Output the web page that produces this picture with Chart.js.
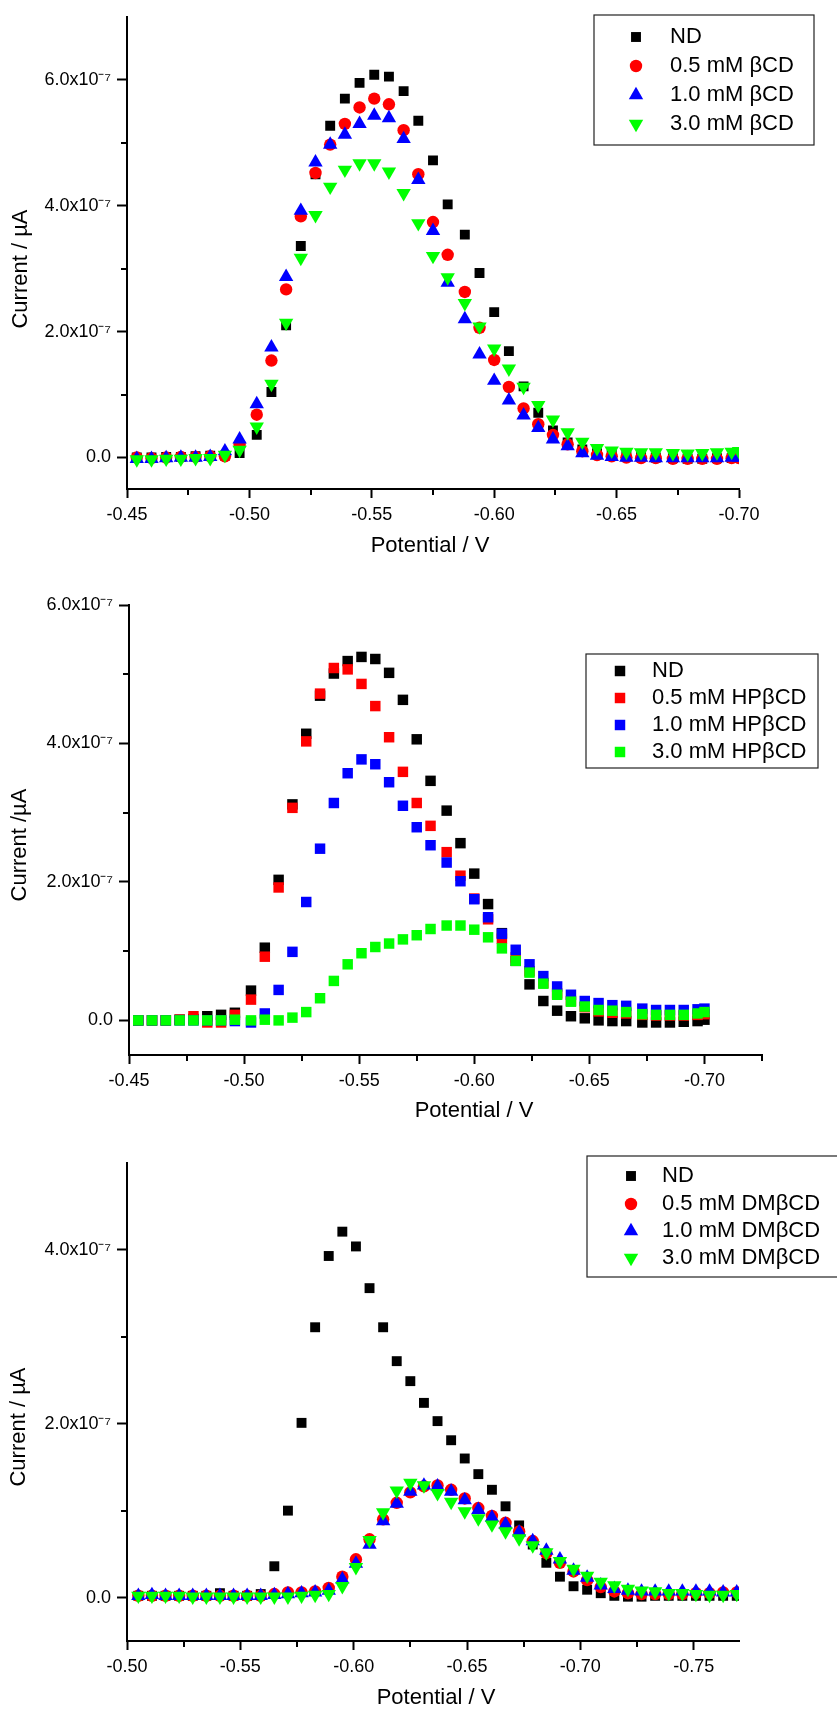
<!DOCTYPE html>
<html lang="en">
<head>
    <meta charset="UTF-8">
    <title>Current vs potential with cyclodextrins</title>
    <script src="https://cdn.jsdelivr.net/npm/chart.js"></script>
    <style type="text/css">
    body {
    margin: 0;
    padding: 0;
    background-color: #fff;
    overflow: hidden;
    }
    .panel {
    position: absolute;
    left: 0;
    width: 837px;
    }
    #panel1 { top: 0; }
    #panel2 { top: 580px; }
    #panel3 { top: 1140px; }
    </style>
</head>
<body>
    <div class="panel" id="panel1"><canvas id="chart1" width="837" height="575"></canvas></div>
    <div class="panel" id="panel2"><canvas id="chart2" width="837" height="560"></canvas></div>
    <div class="panel" id="panel3"><canvas id="chart3" width="837" height="575"></canvas></div>

    <script>
    // ---- data (currents in units of 1e-7 A) ----

    // panel 1: beta-CD
    const potential1 = [-0.454, -0.460, -0.466, -0.472, -0.478, -0.484, -0.490, -0.496, -0.503, -0.509,
        -0.515, -0.521, -0.527, -0.533, -0.539, -0.545, -0.551, -0.557, -0.563, -0.569,
        -0.575, -0.581, -0.588, -0.594, -0.600, -0.606, -0.612, -0.618, -0.624, -0.630,
        -0.636, -0.642, -0.648, -0.654, -0.660, -0.666, -0.673, -0.679, -0.685, -0.691,
        -0.697, -0.700];
    const nd1 = [0.00, 0.00, 0.01, 0.01, 0.02, 0.03, 0.03, 0.07, 0.36, 1.04,
        2.10, 3.36, 4.50, 5.27, 5.70, 5.95, 6.08, 6.05, 5.82, 5.35,
        4.72, 4.02, 3.54, 2.93, 2.31, 1.69, 1.13, 0.71, 0.43, 0.24,
        0.13, 0.07, 0.04, 0.02, 0.01, 0.00, -0.01, -0.02, -0.02, -0.01,
        -0.01, 0.00];
    const bcd05 = [0.00, -0.01, 0.00, 0.01, 0.01, 0.02, 0.02, 0.20, 0.68, 1.54,
        2.67, 3.83, 4.52, 4.97, 5.30, 5.56, 5.70, 5.61, 5.20, 4.50,
        3.74, 3.22, 2.63, 2.06, 1.55, 1.12, 0.78, 0.53, 0.36, 0.21,
        0.10, 0.04, 0.02, 0.00, -0.01, -0.01, -0.02, -0.02, -0.02, -0.02,
        -0.01, -0.01];
    const bcd10 = [-0.02, -0.02, -0.01, 0.00, 0.00, 0.01, 0.10, 0.29, 0.85, 1.75,
        2.87, 3.92, 4.69, 4.97, 5.13, 5.30, 5.43, 5.39, 5.06, 4.41,
        3.60, 2.78, 2.20, 1.64, 1.22, 0.91, 0.67, 0.47, 0.29, 0.18,
        0.07, 0.03, 0.01, 0.00, 0.00, -0.01, -0.01, -0.01, -0.01, -0.01,
        0.00, 0.00];
    const bcd30 = [-0.03, -0.03, -0.02, -0.02, -0.01, -0.01, 0.04, 0.12, 0.49, 1.17,
        2.14, 3.17, 3.85, 4.30, 4.57, 4.67, 4.67, 4.54, 4.20, 3.72,
        3.20, 2.86, 2.45, 2.08, 1.73, 1.41, 1.12, 0.83, 0.60, 0.40,
        0.25, 0.15, 0.11, 0.09, 0.08, 0.08, 0.07, 0.06, 0.07, 0.08,
        0.09, 0.10];
    const labels1 = ['ND', '0.5 mM \u03b2CD', '1.0 mM \u03b2CD', '3.0 mM \u03b2CD'];

    // panel 2: HP-beta-CD
    const potential2 = potential1;
    const nd2 = [0.00, 0.00, 0.00, 0.01, 0.02, 0.06, 0.08, 0.11, 0.43, 1.05,
        2.03, 3.12, 4.14, 4.69, 5.01, 5.19, 5.25, 5.22, 5.02, 4.63,
        4.06, 3.46, 3.03, 2.56, 2.12, 1.68, 1.26, 0.86, 0.52, 0.28,
        0.14, 0.06, 0.03, 0.00, -0.01, -0.01, -0.03, -0.03, -0.03, -0.02,
        -0.01, 0.01];
    const hp05 = [0.00, 0.00, 0.00, 0.01, 0.06, -0.03, -0.03, 0.08, 0.30, 0.92,
        1.92, 3.07, 4.03, 4.72, 5.09, 5.07, 4.86, 4.54, 4.09, 3.59,
        3.14, 2.81, 2.43, 2.09, 1.76, 1.46, 1.18, 0.91, 0.71, 0.54,
        0.39, 0.28, 0.19, 0.13, 0.11, 0.10, 0.08, 0.07, 0.07, 0.07,
        0.08, 0.09];
    const hp10 = [0.00, 0.00, 0.00, 0.00, 0.00, 0.00, 0.00, -0.01, -0.03, 0.10,
        0.44, 0.99, 1.71, 2.48, 3.14, 3.57, 3.77, 3.70, 3.44, 3.10,
        2.79, 2.53, 2.28, 2.01, 1.75, 1.49, 1.25, 1.02, 0.81, 0.64,
        0.49, 0.37, 0.28, 0.25, 0.22, 0.21, 0.17, 0.15, 0.15, 0.15,
        0.16, 0.17];
    const hp30 = [0.00, 0.00, 0.00, 0.00, 0.00, 0.00, 0.00, 0.01, 0.00, 0.01,
        0.00, 0.04, 0.12, 0.32, 0.57, 0.81, 0.97, 1.06, 1.11, 1.17,
        1.23, 1.32, 1.37, 1.37, 1.31, 1.20, 1.04, 0.86, 0.69, 0.53,
        0.37, 0.27, 0.20, 0.15, 0.14, 0.12, 0.09, 0.08, 0.08, 0.08,
        0.10, 0.12];
    const labels2 = ['ND', '0.5 mM HP\u03b2CD', '1.0 mM HP\u03b2CD', '3.0 mM HP\u03b2CD'];

    // panel 3: DM-beta-CD
    const potential3 = [-0.505, -0.511, -0.517, -0.523, -0.529, -0.535, -0.541, -0.547, -0.553, -0.559,
        -0.565, -0.571, -0.577, -0.583, -0.589, -0.595, -0.601, -0.607, -0.613, -0.619,
        -0.625, -0.631, -0.637, -0.643, -0.649, -0.655, -0.661, -0.667, -0.673, -0.679,
        -0.685, -0.691, -0.697, -0.703, -0.709, -0.715, -0.721, -0.727, -0.733, -0.739,
        -0.745, -0.751, -0.757, -0.763, -0.769];
    const nd3 = [0.02, 0.02, 0.02, 0.02, 0.02, 0.02, 0.05, 0.02, 0.02, 0.04,
        0.36, 1.00, 2.01, 3.11, 3.93, 4.21, 4.04, 3.56, 3.11, 2.72,
        2.49, 2.24, 2.03, 1.81, 1.60, 1.42, 1.24, 1.05, 0.83, 0.61,
        0.40, 0.24, 0.13, 0.09, 0.05, 0.02, 0.01, 0.01, 0.02, 0.02,
        0.02, 0.02, 0.02, 0.02, 0.02];
    const dm05 = [0.02, 0.02, 0.02, 0.02, 0.02, 0.02, 0.02, 0.02, 0.02, 0.02,
        0.04, 0.06, 0.06, 0.07, 0.11, 0.24, 0.44, 0.67, 0.90, 1.09,
        1.21, 1.28, 1.29, 1.24, 1.14, 1.03, 0.94, 0.86, 0.76, 0.65,
        0.51, 0.40, 0.30, 0.20, 0.12, 0.07, 0.05, 0.04, 0.04, 0.04,
        0.04, 0.05, 0.05, 0.06, 0.06];
    const dm10 = [0.02, 0.03, 0.02, 0.02, 0.02, 0.02, 0.02, 0.02, 0.02, 0.02,
        0.03, 0.04, 0.05, 0.06, 0.08, 0.21, 0.39, 0.61, 0.88, 1.08,
        1.22, 1.29, 1.28, 1.22, 1.12, 1.01, 0.92, 0.84, 0.75, 0.65,
        0.54, 0.44, 0.31, 0.23, 0.14, 0.10, 0.08, 0.07, 0.07, 0.07,
        0.07, 0.07, 0.07, 0.06, 0.06];
    const dm30 = [0.02, 0.02, 0.02, 0.02, 0.01, 0.01, 0.01, 0.01, 0.01, 0.01,
        0.01, 0.01, 0.02, 0.03, 0.04, 0.13, 0.35, 0.66, 0.98, 1.23,
        1.32, 1.29, 1.20, 1.10, 0.99, 0.91, 0.84, 0.76, 0.68, 0.60,
        0.52, 0.42, 0.33, 0.25, 0.18, 0.14, 0.10, 0.08, 0.07, 0.05,
        0.05, 0.04, 0.03, 0.03, 0.04];
    const labels3 = ['ND', '0.5 mM DM\u03b2CD', '1.0 mM DM\u03b2CD', '3.0 mM DM\u03b2CD'];

    // axis ticks
    const xTicks12 = [-0.45, -0.50, -0.55, -0.60, -0.65, -0.70];
    const xMinor1 = [-0.475, -0.525, -0.575, -0.625, -0.675];
    const xMinor2 = [-0.475, -0.525, -0.575, -0.625, -0.675, -0.725];
    const xTicks3 = [-0.50, -0.55, -0.60, -0.65, -0.70, -0.75];
    const xMinor3 = [-0.525, -0.575, -0.625, -0.675, -0.725];
    const yTicks12 = [0, 2, 4, 6];
    const yLabels12 = ['0.0', '2.0x10\u207b\u2077', '4.0x10\u207b\u2077', '6.0x10\u207b\u2077'];
    const yMinor12 = [1, 3, 5];
    const yTicks3 = [0, 2, 4];
    const yLabels3 = ['0.0', '2.0x10\u207b\u2077', '4.0x10\u207b\u2077'];
    const yMinor3 = [1, 3];

    const SCALE = 1e-7;
    const FONT = '"Liberation Sans", Arial, Helvetica, sans-serif';

    // marker looks, same order as the series
    const looksMixed = [
        { color: '#000000', style: 'rect', radius: 7, rotation: 0 },
        { color: '#ff0000', style: 'circle', radius: 6.2, rotation: 0 },
        { color: '#0000ff', style: 'triangle', radius: 8.3, rotation: 0 },
        { color: '#00ff00', style: 'triangle', radius: 8.3, rotation: 180 }
    ];
    const looksSquares = [
        { color: '#000000', style: 'rect', radius: 7.4, rotation: 0 },
        { color: '#ff0000', style: 'rect', radius: 7.4, rotation: 0 },
        { color: '#0000ff', style: 'rect', radius: 7.4, rotation: 0 },
        { color: '#00ff00', style: 'rect', radius: 7.4, rotation: 0 }
    ];

    // minor ticks, axis titles (placed like the original, off-centre) and boxed legend
    const decorPlugin = {
    id: 'decor',
    afterDraw(chart, args, opts) {
    const ctx = chart.ctx;
    const xs = chart.scales.x;
    const ys = chart.scales.y;
    ctx.save();
    ctx.strokeStyle = '#000';
    ctx.lineWidth = 2;
    ctx.beginPath();
    opts.xMinor.forEach(v => {
    const px = Math.round(xs.getPixelForValue(v));
    ctx.moveTo(px, xs.top);
    ctx.lineTo(px, xs.top + 6);
    });
    opts.yMinor.forEach(v => {
    const py = Math.round(ys.getPixelForValue(v * SCALE));
    ctx.moveTo(ys.right, py);
    ctx.lineTo(ys.right - 6, py);
    });
    ctx.stroke();

    ctx.font = '22px ' + FONT;
    ctx.fillStyle = '#000';
    ctx.textAlign = 'center';
    ctx.textBaseline = 'middle';
    const t = opts.titles;
    ctx.fillText(t.x.text, t.x.cx, t.x.cy);
    ctx.save();
    ctx.translate(t.y.cx, t.y.cy);
    ctx.rotate(-Math.PI / 2);
    ctx.fillText(t.y.text, 0, 0);
    ctx.restore();

    // legend box
    const lg = opts.legend;
    ctx.lineWidth = 1.2;
    ctx.strokeStyle = '#222';
    ctx.strokeRect(lg.x, lg.y, lg.w, lg.h);
    ctx.textAlign = 'left';
    chart.data.datasets.forEach((ds, i) => {
    const y = lg.rows[i];
    ctx.fillStyle = ds.pointBackgroundColor;
    Chart.helpers.drawPoint(ctx, {
    pointStyle: ds.pointStyle,
    rotation: ds.pointRotation || 0,
    radius: ds.pointRadius,
    borderWidth: 0
    }, lg.markerX, y);
    ctx.fillStyle = '#000';
    ctx.fillText(ds.label, lg.textX, y);
    });
    ctx.restore();
    }
    };

    function makeChart(id, p) {
    const datasets = p.series.map((vals, i) => ({
    label: p.labels[i],
    data: vals.map((v, j) => ({ x: p.potential[j], y: v * SCALE })),
    pointStyle: p.looks[i].style,
    pointRotation: p.looks[i].rotation,
    pointRadius: p.looks[i].radius,
    pointBackgroundColor: p.looks[i].color,
    pointBorderColor: p.looks[i].color,
    pointBorderWidth: 0,
    showLine: false,
    order: 4 - i
    }));

    return new Chart(document.getElementById(id), {
    type: 'scatter',
    data: { datasets: datasets },
    plugins: [decorPlugin],
    options: {
    responsive: false,
    animation: false,
    devicePixelRatio: 1,
    events: [],
    layout: { padding: { top: p.padTop, right: p.padRight, left: 0, bottom: 0 } },
    plugins: {
    legend: { display: false },
    tooltip: { enabled: false },
    decor: { xMinor: p.xMinor, yMinor: p.yMinor, legend: p.legend, titles: p.titles }
    },
    scales: {
    x: {
    type: 'linear',
    min: p.xMin,
    max: p.xMax,
    reverse: true,
    afterBuildTicks: s => { s.ticks = p.xTicks.map(v => ({ value: v })); },
    afterFit: s => { s.height = p.xAxisH; },
    ticks: {
    callback: v => v.toFixed(2),
    font: { family: FONT, size: 18 },
    color: '#000',
    padding: 6,
    autoSkip: false,
    maxRotation: 0
    },
    grid: { drawOnChartArea: false, drawTicks: true, tickLength: 9, tickWidth: 2, tickColor: '#000' },
    border: { display: true, color: '#000', width: 2 },
    title: { display: false }
    },
    y: {
    type: 'linear',
    min: p.yMin * SCALE,
    max: p.yMax * SCALE,
    afterBuildTicks: s => { s.ticks = p.yTicks.map(v => ({ value: v * SCALE })); },
    afterFit: s => { s.width = p.yAxisW; },
    ticks: {
    callback: v => {
    const k = p.yTicks.findIndex(t => Math.abs(t * SCALE - v) < 1e-12);
    return k >= 0 ? p.yLabels[k] : '';
    },
    font: { family: FONT, size: 18 },
    color: '#000',
    padding: 6,
    autoSkip: false
    },
    grid: { drawOnChartArea: false, drawTicks: true, tickLength: 10, tickWidth: 2, tickColor: '#000' },
    border: { display: true, color: '#000', width: 2 },
    title: { display: false }
    }
    }
    }
    });
    }

    makeChart('chart1', {
    potential: potential1,
    series: [nd1, bcd05, bcd10, bcd30],
    labels: labels1,
    looks: looksMixed,
    xMin: -0.70, xMax: -0.45, xTicks: xTicks12, xMinor: xMinor1,
    yMin: -0.5, yMax: 7, yTicks: yTicks12, yLabels: yLabels12, yMinor: yMinor12,
    padTop: 13, padRight: 98, yAxisW: 127, xAxisH: 86,
    titles: {
    x: { text: 'Potential / V', cx: 430, cy: 546 },
    y: { text: 'Current / \u00b5A', cx: 21, cy: 269 }
    },
    legend: { x: 594, y: 15, w: 220, h: 130, rows: [37, 66, 95, 124], markerX: 636, textX: 670 }
    });

    makeChart('chart2', {
    potential: potential2,
    series: [nd2, hp05, hp10, hp30],
    labels: labels2,
    looks: looksSquares,
    xMin: -0.725, xMax: -0.45, xTicks: xTicks12, xMinor: xMinor2,
    yMin: -0.5, yMax: 6, yTicks: yTicks12, yLabels: yLabels12, yMinor: yMinor12,
    padTop: 25, padRight: 75, yAxisW: 129, xAxisH: 85,
    titles: {
    x: { text: 'Potential / V', cx: 474, cy: 531 },
    y: { text: 'Current /\u00b5A', cx: 20, cy: 265 }
    },
    legend: { x: 586, y: 74, w: 232, h: 114, rows: [91, 118, 145, 172], markerX: 620, textX: 652 }
    });

    makeChart('chart3', {
    potential: potential3,
    series: [nd3, dm05, dm10, dm30],
    labels: labels3,
    looks: looksMixed,
    xMin: -0.77, xMax: -0.50, xTicks: xTicks3, xMinor: xMinor3,
    yMin: -0.5, yMax: 5, yTicks: yTicks3, yLabels: yLabels3, yMinor: yMinor3,
    padTop: 23, padRight: 98, yAxisW: 127, xAxisH: 74,
    titles: {
    x: { text: 'Potential / V', cx: 436, cy: 558 },
    y: { text: 'Current / \u00b5A', cx: 19, cy: 287 }
    },
    legend: { x: 587, y: 16, w: 260, h: 121, rows: [36, 64, 91, 118], markerX: 631, textX: 662 }
    });
    </script>
</body>
</html>
